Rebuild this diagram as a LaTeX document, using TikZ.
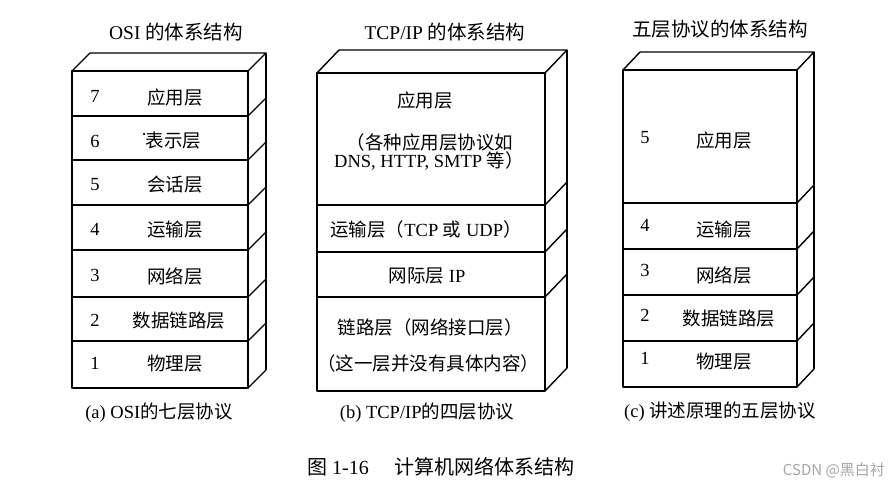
\documentclass[tikz,border=0pt]{standalone}
\usepackage{fontspec}
\setmainfont{Liberation Serif}
\newfontfamily\cjk{Noto Sans CJK SC}
\newcommand\zh[1]{{\cjk #1}}
% xl, xr, top, dx, dy, boundaries, bottom
\newcommand\drawstack[7]{%
  \draw[box] (#1,#3) -- (#1+#4,#3-#5) -- (#2+#4,#3-#5) -- (#2,#3) -- cycle;
  \foreach \yy [remember=\yy as \pp (initially #3)] in {#6} {
    \draw[box] (#1,\pp) rectangle (#2,\yy);
    \draw[box] (#2,\yy) -- ++(#4,-#5);
  }
  \draw[box] (#2+#4,#3-#5) -- (#2+#4,#7-#5);
}
\begin{document}
\begin{tikzpicture}[x=1pt,y=-1pt,
  box/.style={line width=1.4pt, line join=round},
  lbl/.style={font=\fontsize{18.5}{21}\selectfont, inner sep=0pt},
  ttl/.style={font=\fontsize{19.5}{22}\selectfont, inner sep=0pt},
  cpt/.style={font=\fontsize{18.5}{21}\selectfont, inner sep=0pt}]
\useasboundingbox[fill=white] (0,0) rectangle (888,487);

% ---------- OSI ----------
\drawstack{72}{248}{71}{18}{18}{116,160,205,250,297,341,388}{388}
\node[ttl] (t1) at (176,32) {OSI \zh{的体系结构}};
\node[lbl] (o7n) at (95,96) {7};   \node[lbl] (o7) at (175,97) {\zh{应用层}};
\node[lbl] (o6n) at (95,141) {6};  \node[lbl] (o6) at (172,141) {\raisebox{1.2ex}{\scalebox{0.5}{•}}\zh{表示层}};
\node[lbl] (o5n) at (95,185) {5};  \node[lbl] (o5) at (175,185) {\zh{会话层}};
\node[lbl] (o4n) at (95,229) {4};  \node[lbl] (o4) at (175,230) {\zh{运输层}};
\node[lbl] (o3n) at (95,275) {3};  \node[lbl] (o3) at (175,276) {\zh{网络层}};
\node[lbl] (o2n) at (95,320) {2};  \node[lbl] (o2) at (179,321) {\zh{数据链路层}};
\node[lbl] (o1n) at (95,363) {1};  \node[lbl] (o1) at (175,364) {\zh{物理层}};
\node[cpt] (c1) at (159,413) {(a) OSI\zh{的七层协议}};

% ---------- TCP/IP ----------
\drawstack{317}{545}{73}{22}{23}{205,252,297,391}{391}
\node[ttl] (t2) at (445,32) {TCP/IP \zh{的体系结构}};
\node[lbl] (p4) at (425,100) {\zh{应用层}};
\node[lbl] (p4a) at (430,142) {\zh{（各种应用层协议如}};
\node[lbl] (p4b) at (429,161) {DNS, HTTP, SMTP \zh{等）}};
\node[lbl] (p3) at (426,229) {\zh{运输层（}TCP \zh{或} UDP\zh{）}};
\node[lbl] (p2) at (427,276) {\zh{网际层} IP};
\node[lbl] (p1a) at (430,327) {\zh{链路层（网络接口层）}};
\node[lbl] (p1b) at (428,363) {\zh{（这一层并没有具体内容）}};
\node[cpt] (c2) at (427,413) {(b) TCP/IP\zh{的四层协议}};

% ---------- Five layers ----------
\drawstack{623}{797}{70}{17}{18}{203,249,295,341,387}{387}
\node[ttl] (t3) at (720,29) {\zh{五层协议的体系结构}};
\node[lbl] (f5n) at (645,138) {5};  \node[lbl] (f5) at (724,140) {\zh{应用层}};
\node[lbl] (f4n) at (645,225) {4};  \node[lbl] (f4) at (724,230) {\zh{运输层}};
\node[lbl] (f3n) at (645,270) {3};  \node[lbl] (f3) at (724,275) {\zh{网络层}};
\node[lbl] (f2n) at (645,315) {2};  \node[lbl] (f2) at (729,319) {\zh{数据链路层}};
\node[lbl] (f1n) at (645,358) {1};  \node[lbl] (f1) at (724,362) {\zh{物理层}};
\node[cpt] (c3) at (720,412) {(c) \zh{讲述原理的五层协议}};

% ---------- caption ----------
\node[font=\fontsize{20}{23}\selectfont, inner sep=0pt] (cap) at (441,467) {\zh{图} 1-16\hspace{1.3em}\zh{计算机网络体系结构}};
\node[font=\cjk\fontsize{15}{17}\selectfont, text=black!35, inner sep=0pt, anchor=east] (wm) at (885,470) {CSDN @黑白衬};
\end{tikzpicture}
\end{document}
